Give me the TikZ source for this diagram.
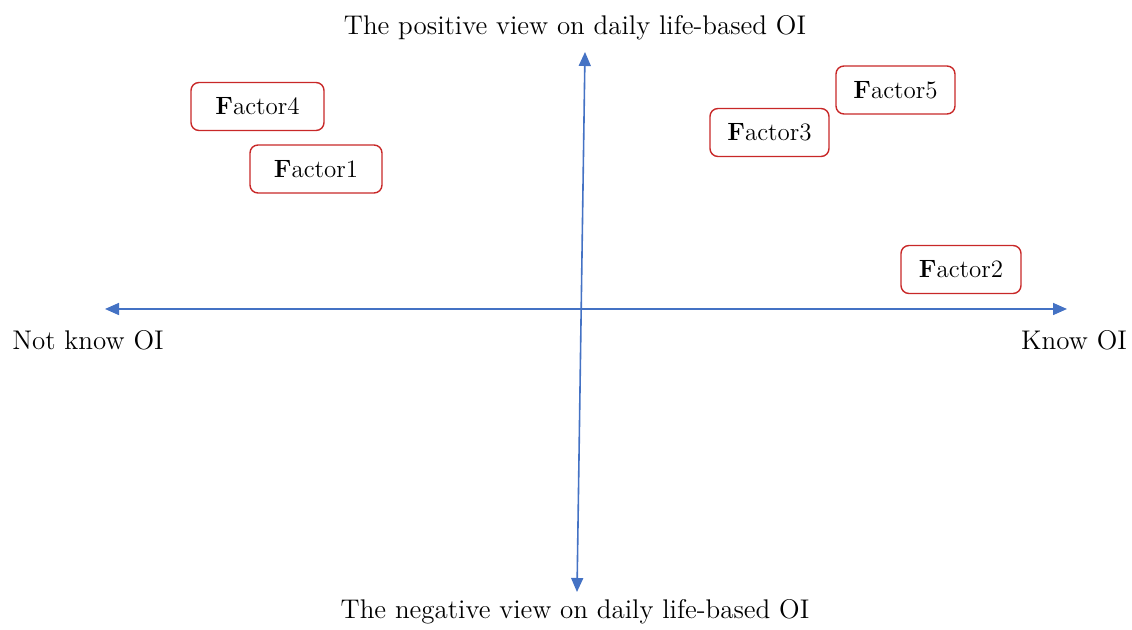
\documentclass[tikz,border=0pt]{standalone}
\usepackage{tikz}
\usetikzlibrary{arrows.meta,positioning}
\definecolor{axisblue}{RGB}{68,114,196}
\definecolor{boxred}{RGB}{200,40,40}
\begin{document}
\begin{tikzpicture}[x=0.5pt,y=-0.5pt,
  factor/.style={draw=boxred, rounded corners=4pt, line width=0.7pt, minimum height=24pt, inner xsep=0pt, font=\fontsize{12.5}{15}\selectfont},
  axis/.style={axisblue, line width=0.8pt, {Triangle[width=6pt,length=7pt]}-{Triangle[width=6pt,length=7pt]}},
  lbl/.style={font=\fontsize{13.5}{16}\selectfont}]
	\useasboundingbox (0,0) rectangle (1132,630);

	% axes
	\coordinate (left)   at (105,309);
	\coordinate (right)  at (1067,309);
	\coordinate (up)     at (585,52);
	\coordinate (down)   at (577,592);
	\draw[axis] (left) -- (right);
	\draw[axis] (up) -- (down);

	\node[lbl] (pos)  at (575,28)  {The positive view on daily life-based OI};
	\node[lbl] (neg)  at (575,612) {The negative view on daily life-based OI};
	\node[lbl] (nk)   at (88,340)  {Not know OI};
	\node[lbl] (k)    at (1074,340) {Know OI};

	% factors
	\node[factor, minimum width=66.5pt] (f4) at (257.5,106.5) {\textbf{F}actor4};
	\node[factor, minimum width=66pt]   (f1) at (316,169)     {\textbf{F}actor1};
	\node[factor, minimum width=59.5pt] (f3) at (769.5,132.5) {\textbf{F}actor3};
	\node[factor, minimum width=59.5pt] (f5) at (895.5,90)    {\textbf{F}actor5};
	\node[factor, minimum width=60pt]   (f2) at (961,269.5)   {\textbf{F}actor2};
\end{tikzpicture}
\end{document}
